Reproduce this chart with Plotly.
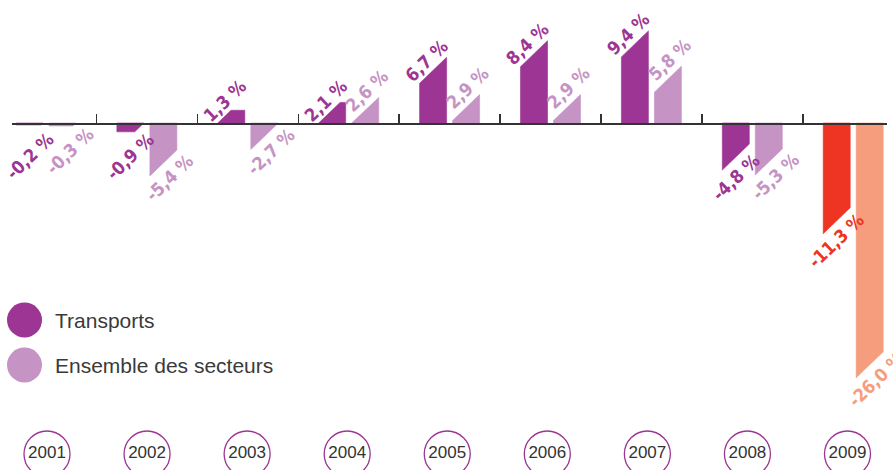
import plotly.graph_objects as go

# ---------------- data ----------------
years = ["2001", "2002", "2003", "2004", "2005", "2006", "2007", "2008", "2009"]
transports = [-0.2, -0.9, 1.3, 2.1, 6.7, 8.4, 9.4, -4.8, -11.3]
ensemble = [-0.3, -5.4, -2.7, 2.6, 2.9, 2.9, 5.8, -5.3, -26.0]
series_names = ["Transports", "Ensemble des secteurs"]

# ---------------- style ----------------
COL_T = "#9C3593"
COL_E = "#C594C4"
COL_T_HI = "#EE3524"
COL_E_HI = "#F59D7D"
CIRCLE_COL = "#9C3593"
TEXT_COL = "#3a3a3a"
LABEL_FONT = "Liberation Sans Narrow, DejaVu Sans Condensed, Arial Narrow, sans-serif"
BODY_FONT = "Liberation Sans, Arial, Helvetica, sans-serif"

W, H = 893, 470
BASE_PX = 123          # baseline from top
PX_Y = 9.8             # px per %
PX_X = 100.9           # px per category (bars)
X_LEFT_PX, X_RIGHT_PX = 12, 887
GROUP0_PX = 46
CIRC_PX_X = 100.06
CIRC0_PX = 47

y_top = BASE_PX / PX_Y
y_bot = -(H - BASE_PX) / PX_Y
x_lo = (X_LEFT_PX - GROUP0_PX) / PX_X
x_hi = x_lo + (X_RIGHT_PX - X_LEFT_PX) / PX_X
x2_lo = -CIRC0_PX / CIRC_PX_X
x2_hi = x2_lo + W / CIRC_PX_X

BAR_W = 27 / PX_X
OFFSET = 16.5 / PX_X
SLANT = 26 / PX_Y
K = SLANT / BAR_W


def bar_polygon(xc, v):
    x0, x1 = xc - BAR_W / 2, xc + BAR_W / 2
    if v >= 0:
        if v >= SLANT:
            pts = [(x0, 0), (x0, v - SLANT), (x1, v), (x1, 0)]
        else:
            pts = [(x0, 0), (x0 + v / K, v), (x1, v), (x1, 0)]
    else:
        if v <= -SLANT:
            pts = [(x0, 0), (x0, v), (x1, v + SLANT), (x1, 0)]
        else:
            pts = [(x0, 0), (x0, v), (x1 + v / K, v), (x1, 0)]
    pts.append(pts[0])
    return [p[0] for p in pts], [p[1] for p in pts]


def fmt(v):
    return f"{v:.1f}".replace(".", ",") + " %"


fig = go.Figure()
annotations = []

# label pixel offsets per series: (pos_dx, pos_dy_up, neg_dx, neg_dy_up)
label_off = [(-20, -3, 13, -7), (-12, 7, 20, -2)]

for s_idx, (vals, sign) in enumerate([(transports, -1), (ensemble, 1)]):
    for i, v in enumerate(vals):
        xc = i + sign * OFFSET
        last = i == len(years) - 1
        if s_idx == 0:
            col = COL_T_HI if last else COL_T
        else:
            col = COL_E_HI if last else COL_E
        xs, ys = bar_polygon(xc, v)
        fig.add_trace(go.Scatter(x=xs, y=ys, mode="lines", fill="toself",
                                 fillcolor=col, line=dict(width=0.6, color=col),
                                 hoverinfo="skip", showlegend=False,
                                 xaxis="x", yaxis="y"))
        pdx, pdy, ndx, ndy = label_off[s_idx]
        if v >= 0:
            ax, ay, dx, dy = xc + BAR_W / 2, max(v, SLANT), pdx, pdy
        else:
            ax, ay, dx, dy = xc - BAR_W / 2, min(v, -SLANT), ndx, ndy
        annotations.append(dict(x=ax, y=ay, xref="x", yref="y", text=fmt(v),
                                showarrow=False, textangle=-44,
                                xanchor="center", yanchor="middle",
                                xshift=dx, yshift=dy,
                                font=dict(family=LABEL_FONT, size=18, color=col, weight=700)))

# year circles
circle_y = (BASE_PX - 454) / PX_Y
fig.add_trace(go.Scatter(x=list(range(len(years))), y=[circle_y] * len(years),
                         mode="markers+text", text=years, textposition="middle center",
                         textfont=dict(family=BODY_FONT, size=17, color="#333333"),
                         marker=dict(size=46, color="white",
                                     line=dict(color=CIRCLE_COL, width=1.3)),
                         hoverinfo="skip", showlegend=False, xaxis="x2", yaxis="y"))

# legend
leg_x = (24.5 - CIRC0_PX) / CIRC_PX_X
leg_y = [(BASE_PX - 320) / PX_Y, (BASE_PX - 365) / PX_Y]
fig.add_trace(go.Scatter(x=[leg_x, leg_x], y=leg_y, mode="markers",
                         marker=dict(size=35, color=[COL_T, COL_E]),
                         hoverinfo="skip", showlegend=False, xaxis="x2", yaxis="y"))
for name, yy in zip(series_names, leg_y):
    annotations.append(dict(x=53 / W, y=yy, xref="paper", yref="y", text=name,
                            showarrow=False, xanchor="left", yanchor="middle",
                            font=dict(family=BODY_FONT, size=21, color=TEXT_COL)))

tickvals = [x_lo + 1e-4] + [i + 0.5 for i in range(len(years) - 1)] + [x_hi - 1e-4]

fig.update_layout(
    width=W, height=H, autosize=False,
    margin=dict(l=0, r=0, t=0, b=0, pad=0),
    paper_bgcolor="white", plot_bgcolor="rgba(0,0,0,0)",
    showlegend=False,
    xaxis=dict(domain=[X_LEFT_PX / W, X_RIGHT_PX / W], range=[x_lo, x_hi],
               anchor="free", position=(H - BASE_PX) / H,
               showline=True, linecolor="#333333", linewidth=1.5,
               ticks="inside", ticklen=9, tickwidth=1.5, tickcolor="#333333",
               tickmode="array", tickvals=tickvals, showticklabels=False,
               showgrid=False, zeroline=False, fixedrange=True),
    xaxis2=dict(domain=[0, 1], range=[x2_lo, x2_hi], anchor="y", visible=False,
                fixedrange=True),
    yaxis=dict(domain=[0, 1], range=[y_bot, y_top], visible=False, fixedrange=True),
    annotations=annotations,
)

fig.write_html("out.html", config={"displayModeBar": False, "staticPlot": True})

# remove the default page margin so the figure sits at the window's top-left corner
with open("out.html", "r", encoding="utf-8") as f:
    html = f.read()
html = html.replace("<head>", "<head><style>html,body{margin:0;padding:0;overflow:hidden;}</style>", 1)
with open("out.html", "w", encoding="utf-8") as f:
    f.write(html)
